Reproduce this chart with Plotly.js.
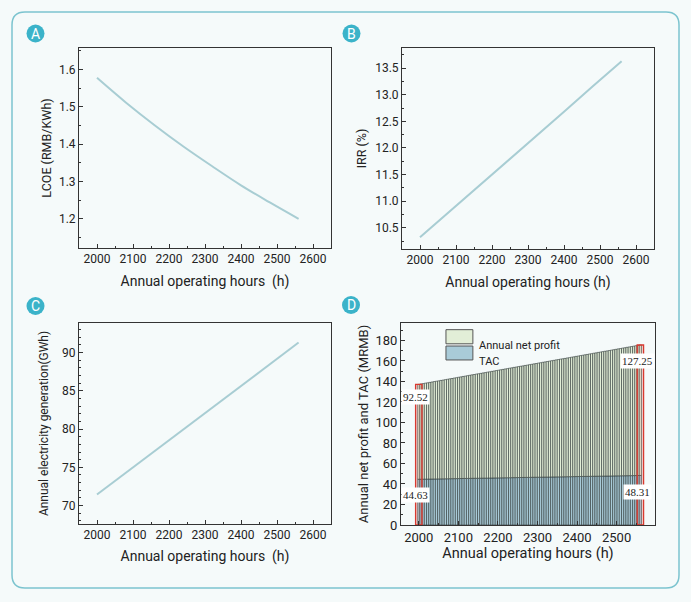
<!DOCTYPE html>
<html>
<head>
<meta charset="utf-8">
<script src="https://cdn.plot.ly/plotly-3.0.1.min.js"></script>
<style>
  html, body { margin: 0; padding: 0; background: #f5fafa; }
  #chart { width: 691px; height: 602px; }
</style>
</head>
<body>
<div id="chart"></div>
<script>
// panels A-C: read every 80 h
let hours = [2000, 2080, 2160, 2240, 2320, 2400, 2480, 2560];
let lcoe = [1.578, 1.512, 1.451, 1.394, 1.341, 1.290, 1.244, 1.200];
let irr = [10.32, 10.79, 11.27, 11.74, 12.21, 12.68, 13.16, 13.63];
let generation = [71.45, 74.30, 77.10, 79.95, 82.80, 85.65, 88.50, 91.30];

// panel D: 101 bars from 2000 h to 2560 h
let barHourStart = 2000;
let barHourStep = 5.6;
let netProfit = [
  92.52, 92.9, 93.2, 93.6, 93.9, 94.3, 94.6, 95.0, 95.3, 95.6,
  96.0, 96.3, 96.7, 97.0, 97.4, 97.7, 98.1, 98.4, 98.8, 99.1,
  99.5, 99.8, 100.2, 100.5, 100.9, 101.2, 101.6, 101.9, 102.2, 102.6,
  102.9, 103.3, 103.6, 104.0, 104.3, 104.7, 105.0, 105.4, 105.7, 106.1,
  106.4, 106.8, 107.1, 107.5, 107.8, 108.2, 108.5, 108.8, 109.2, 109.5,
  109.9, 110.2, 110.6, 110.9, 111.3, 111.6, 112.0, 112.3, 112.7, 113.0,
  113.4, 113.7, 114.1, 114.4, 114.8, 115.1, 115.4, 115.8, 116.1, 116.5,
  116.8, 117.2, 117.5, 117.9, 118.2, 118.6, 118.9, 119.3, 119.6, 120.0,
  120.3, 120.7, 121.0, 121.4, 121.7, 122.0, 122.4, 122.7, 123.1, 123.4,
  123.8, 124.1, 124.5, 124.8, 125.2, 125.5, 125.9, 126.2, 126.6, 126.9,
  127.25
];
let tac = [
  44.63, 44.67, 44.70, 44.74, 44.78, 44.81, 44.85, 44.89, 44.92, 44.96,
  45.00, 45.03, 45.07, 45.11, 45.15, 45.18, 45.22, 45.26, 45.29, 45.33,
  45.37, 45.40, 45.44, 45.48, 45.51, 45.55, 45.59, 45.62, 45.66, 45.70,
  45.73, 45.77, 45.81, 45.84, 45.88, 45.92, 45.95, 45.99, 46.03, 46.07,
  46.10, 46.14, 46.18, 46.21, 46.25, 46.29, 46.32, 46.36, 46.40, 46.43,
  46.47, 46.51, 46.54, 46.58, 46.62, 46.65, 46.69, 46.73, 46.76, 46.80,
  46.84, 46.87, 46.91, 46.95, 46.99, 47.02, 47.06, 47.10, 47.13, 47.17,
  47.21, 47.24, 47.28, 47.32, 47.35, 47.39, 47.43, 47.46, 47.50, 47.54,
  47.57, 47.61, 47.65, 47.68, 47.72, 47.76, 47.79, 47.83, 47.87, 47.91,
  47.94, 47.98, 48.02, 48.05, 48.09, 48.13, 48.16, 48.20, 48.24, 48.27,
  48.31
];

let W = 691, H = 602;
let px = x => x / W;
let py = y => 1 - y / H;

let lineColor = '#a8cdd3';
let axisColor = '#333';
let font = 'Roboto, "Open Sans", sans-serif';

function makeAxis(opts) {
  return {
    domain: opts.domain,
    range: opts.range,
    anchor: opts.anchor,
    dtick: opts.dtick,
    tick0: opts.tick0,
    tickformat: opts.tickformat,
    showline: true, linecolor: axisColor, linewidth: 1, mirror: true,
    ticks: 'inside', ticklen: 4, tickwidth: 1, tickcolor: axisColor,
    minor: { dtick: opts.minor, ticks: 'inside', ticklen: 2, tickcolor: axisColor, showgrid: false },
    showgrid: false, zeroline: false, automargin: false, fixedrange: true,
    tickfont: { family: font, size: opts.tickSize || 12, color: '#222' },
    title: { text: opts.title, standoff: opts.standoff, font: { family: font, size: opts.titleSize || 14, color: '#222' } }
  };
}

let lastIdx = netProfit.length - 1;
let lastHour = barHourStart + barHourStep * lastIdx;
let totalFirst = netProfit[0] + tac[0];
let totalLast = netProfit[lastIdx] + tac[lastIdx];

let data = [
  { type: 'scatter', mode: 'lines', x: hours, y: lcoe, xaxis: 'x', yaxis: 'y',
    line: { color: lineColor, width: 2, shape: 'spline' }, hoverinfo: 'skip' },
  { type: 'scatter', mode: 'lines', x: hours, y: irr, xaxis: 'x2', yaxis: 'y2',
    line: { color: lineColor, width: 2 }, hoverinfo: 'skip' },
  { type: 'scatter', mode: 'lines', x: hours, y: generation, xaxis: 'x3', yaxis: 'y3',
    line: { color: lineColor, width: 2 }, hoverinfo: 'skip' },
  { type: 'bar', name: 'TAC', x0: barHourStart, dx: barHourStep, y: tac,
    xaxis: 'x4', yaxis: 'y4', width: barHourStep,
    marker: { color: '#a9cbd8', line: { color: '#2e3838', width: 0.6 } }, hoverinfo: 'skip' },
  { type: 'bar', name: 'Annual net profit', x0: barHourStart, dx: barHourStep, y: netProfit, base: tac,
    xaxis: 'x4', yaxis: 'y4', width: barHourStep,
    marker: { color: '#e2eed7', line: { color: '#2e3838', width: 0.6 } }, hoverinfo: 'skip' },
  { type: 'bar', x: [barHourStart, lastHour], y: [totalFirst, totalLast],
    xaxis: 'x4', yaxis: 'y4', width: 16,
    marker: { color: 'rgba(230,70,60,0.12)', line: { color: '#d8392f', width: 1.4 } }, hoverinfo: 'skip' }
];

// rounded outer frame
let fx0 = px(12), fx1 = px(679), fyt = py(12), fyb = py(588);
let rx = 13 / W, ry = 13 / H;
let framePath = `M ${fx0 + rx},${fyt} L ${fx1 - rx},${fyt} Q ${fx1},${fyt} ${fx1},${fyt - ry} ` +
  `L ${fx1},${fyb + ry} Q ${fx1},${fyb} ${fx1 - rx},${fyb} L ${fx0 + rx},${fyb} ` +
  `Q ${fx0},${fyb} ${fx0},${fyb + ry} L ${fx0},${fyt - ry} Q ${fx0},${fyt} ${fx0 + rx},${fyt} Z`;

let badges = [['A', 35.5, 33.5], ['B', 351.5, 33.5], ['C', 35.5, 306], ['D', 351, 305]];
let shapes = [
  { type: 'path', xref: 'paper', yref: 'paper', layer: 'below', path: framePath, line: { color: '#7cc4cf', width: 1.5 } },
  { type: 'rect', xref: 'x4 domain', yref: 'y4 domain', x0: 0.177, x1: 0.283, y0: 0.897, y1: 0.967,
    fillcolor: '#e2eed7', line: { color: '#555', width: 1 } },
  { type: 'rect', xref: 'x4 domain', yref: 'y4 domain', x0: 0.177, x1: 0.283, y0: 0.817, y1: 0.886,
    fillcolor: '#a9cbd8', line: { color: '#555', width: 1 } }
];
let annotations = [];
badges.forEach(b => {
  shapes.push({ type: 'circle', xref: 'paper', yref: 'paper', layer: 'below',
    x0: px(b[1] - 9), x1: px(b[1] + 9), y0: py(b[2] + 9), y1: py(b[2] - 9),
    fillcolor: '#3bb3c9', line: { width: 0 } });
  annotations.push({ xref: 'paper', yref: 'paper', x: px(b[1]), y: py(b[2]), text: b[0],
    xanchor: 'center', yanchor: 'middle',
    showarrow: false, font: { family: font, size: 14, color: '#ffffff' } });
});

let legendFont = { family: font, size: 11, color: '#222' };
annotations.push(
  { xref: 'x4 domain', yref: 'y4 domain', x: 0.298, y: 0.932, xanchor: 'left', text: 'Annual net profit', showarrow: false, font: legendFont },
  { xref: 'x4 domain', yref: 'y4 domain', x: 0.298, y: 0.851, xanchor: 'left', text: 'TAC', showarrow: false, font: legendFont }
);

let valueFont = { family: '"Liberation Serif", "Times New Roman", serif', size: 11, color: '#222' };
let valueLabels = [
  [barHourStart, totalFirst, netProfit[0], -5],
  [barHourStart, tac[0], tac[0], -8],
  [lastHour, totalLast, netProfit[lastIdx], -8],
  [lastHour, tac[lastIdx], tac[lastIdx], -9]
];
valueLabels.forEach(v => {
  annotations.push({ xref: 'x4', yref: 'y4', x: v[0], y: v[1], text: v[2].toFixed(2),
    yanchor: 'top', yshift: v[3], xshift: -3, showarrow: false,
    bgcolor: '#ffffff', borderpad: 1, font: valueFont });
});

let layout = {
  width: W, height: H,
  margin: { l: 0, r: 0, t: 0, b: 0 },
  paper_bgcolor: '#f5fafa', plot_bgcolor: '#f5fafa',
  showlegend: false,
  barmode: 'overlay', bargap: 0,
  xaxis: makeAxis({ domain: [px(79), px(331)], range: [1950, 2650], anchor: 'y', dtick: 100, minor: 50,
    title: 'Annual operating hours\u00a0\u00a0(h)', standoff: 10 }),
  yaxis: makeAxis({ domain: [py(248), py(48)], range: [1.122, 1.658], anchor: 'x', dtick: 0.1, tick0: 1.2, minor: 0.05,
    tickformat: '.1f', title: 'LCOE (RMB/KWh)', titleSize: 12.5, standoff: 4 }),
  xaxis2: makeAxis({ domain: [px(402), px(654)], range: [1950, 2650], anchor: 'y2', dtick: 100, minor: 50,
    title: 'Annual operating hours (h)', standoff: 10 }),
  yaxis2: makeAxis({ domain: [py(249), py(48)], range: [10.1, 13.88], anchor: 'x2', dtick: 0.5, tick0: 10.5, minor: 0.25,
    tickformat: '.1f', title: 'IRR (%)', titleSize: 12.5, standoff: 5 }),
  xaxis3: makeAxis({ domain: [px(79), px(331)], range: [1950, 2650], anchor: 'y3', dtick: 100, minor: 50,
    title: 'Annual operating hours\u00a0\u00a0(h)', standoff: 9 }),
  yaxis3: makeAxis({ domain: [py(524), py(323)], range: [67.6, 93.85], anchor: 'x3', dtick: 5, tick0: 70, minor: 1,
    title: 'Annual electricity generation(GWh)', titleSize: 12, standoff: 10 }),
  xaxis4: makeAxis({ domain: [px(401), px(655)], range: [1955, 2597], anchor: 'y4', dtick: 100, minor: 50,
    tickSize: 13, title: 'Annual operating hours (h)', titleSize: 14.5, standoff: 4 }),
  yaxis4: makeAxis({ domain: [py(525), py(323)], range: [0, 197], anchor: 'x4', dtick: 20, minor: 10,
    tickSize: 13, title: 'Annual net profit and TAC (MRMB)', titleSize: 13, standoff: 3 }),
  shapes: shapes,
  annotations: annotations
};

Plotly.newPlot('chart', data, layout, { displayModeBar: false, staticPlot: true });
</script>
</body>
</html>
